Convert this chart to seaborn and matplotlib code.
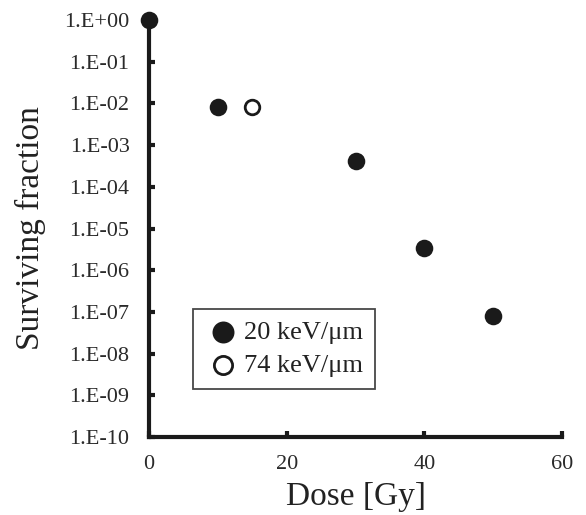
import numpy as np
import pandas as pd
import seaborn as sns
import matplotlib.pyplot as plt
from matplotlib.ticker import FixedLocator, FuncFormatter

# data
dose_20 = [0, 10, 30, 40, 50]
sf_20 = [1.0, 8e-3, 4.2e-4, 3.5e-6, 8e-8]
dose_74 = [15]
sf_74 = [8e-3]
x_ticks = [0, 20, 40, 60]
y_ticks = [10.0 ** e for e in range(-10, 1)]

sns.set_theme(style='white')
plt.rcParams['font.family'] = ['Liberation Serif', 'DejaVu Serif']

df20 = pd.DataFrame({'dose': dose_20, 'sf': sf_20})
df74 = pd.DataFrame({'dose': dose_74, 'sf': sf_74})

fig = plt.figure(figsize=(5.86, 5.15), dpi=100)
ax = fig.add_axes([149 / 586, 1 - 437 / 515, (562 - 149) / 586, (437 - 20) / 515])

sns.scatterplot(data=df20, x='dose', y='sf', ax=ax, s=160, color='#1a1a1a',
                edgecolor='#1a1a1a', linewidth=0, label='20 keV/\u03bcm', clip_on=False, zorder=5)
sns.scatterplot(data=df74, x='dose', y='sf', ax=ax, s=110, facecolor='white',
                edgecolor='#1a1a1a', linewidth=2, label='74 keV/\u03bcm', clip_on=False, zorder=5)

ax.set_yscale('log')
ax.set_xlim(0, 60)
ax.set_ylim(1e-10, 1)
ax.xaxis.set_major_locator(FixedLocator(x_ticks))
ax.yaxis.set_major_locator(FixedLocator(y_ticks))
ax.yaxis.set_minor_locator(FixedLocator([]))
ax.yaxis.set_major_formatter(FuncFormatter(
    lambda v, p: '1.E+00' if v >= 1 else '1.E-%02d' % round(-np.log10(v))))

for s in ['top', 'right']:
    ax.spines[s].set_visible(False)
for s in ['left', 'bottom']:
    ax.spines[s].set_linewidth(3)
    ax.spines[s].set_color('#1a1a1a')

ax.tick_params(axis='both', which='major', left=True, bottom=True, direction='in',
               length=4, width=3, color='#1a1a1a', labelsize=16, labelcolor='#2a2a2a')
ax.tick_params(axis='y', pad=14)
ax.tick_params(axis='x', pad=13)

ax.set_xlabel('Dose [Gy]', fontsize=24, color='#222222')
ax.set_ylabel('Surviving fraction', fontsize=24, color='#222222')
ax.xaxis.set_label_coords(0.5, -(497 - 437) / 417)
ax.yaxis.set_label_coords((30 - 149) / 413, 0.5)
ax.xaxis.label.set_va('center')
ax.yaxis.label.set_va('center')

leg = ax.legend(loc='upper left', bbox_to_anchor=((193 - 149) / 413, (437 - 309) / 417),
                borderaxespad=0, fontsize=19, markerscale=1.25,
                frameon=True, fancybox=False, edgecolor='#1a1a1a',
                handletextpad=0.1, borderpad=0.45, labelspacing=0.36, handlelength=1.4)
leg.get_frame().set_linewidth(1.3)
for t in leg.get_texts():
    t.set_color('#222222')

fig.savefig('out.png', dpi=100)
